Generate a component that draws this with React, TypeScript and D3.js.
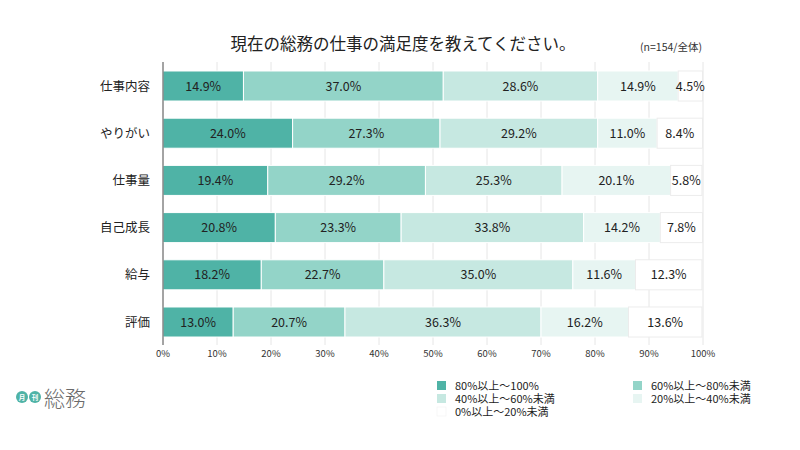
import React from "react";
import * as d3 from "d3";

const categories = ["仕事内容", "やりがい", "仕事量", "自己成長", "給与", "評価"];
const seriesNames = ["80%以上～100%", "60%以上～80%未満", "40%以上～60%未満", "20%以上～40%未満", "0%以上～20%未満"];
const s80to100 = [14.9, 24.0, 19.4, 20.8, 18.2, 13.0];
const s60to80 = [37.0, 27.3, 29.2, 23.3, 22.7, 20.7];
const s40to60 = [28.6, 29.2, 25.3, 33.8, 35.0, 36.3];
const s20to40 = [14.9, 11.0, 20.1, 14.2, 11.6, 16.2];
const s0to20 = [4.5, 8.4, 5.8, 7.8, 12.3, 13.6];
const ticks = [0, 10, 20, 30, 40, 50, 60, 70, 80, 90, 100];
const colors = ["#4fb3a6", "#93d4c8", "#c6e8e1", "#e7f5f2", "#ffffff"];

const FONT = "'Noto Sans CJK JP', 'Noto Sans', sans-serif";

export default function App() {
  const W = 800, H = 450;
  const x0 = 163, x1 = 703;
  const x = d3.scaleLinear().domain([0, 100]).range([x0, x1]);
  const y = d3.scaleBand().domain(categories).range([62.4, 345.6]).paddingInner(0.364).paddingOuter(0.182);
  const series = [s80to100, s60to80, s40to60, s20to40, s0to20];
  const rows = categories.map((c, i) => {
    const o: any = { cat: c };
    series.forEach((s, k) => (o["k" + k] = s[i]));
    return o;
  });
  const stack = d3.stack().keys(series.map((_, k) => "k" + k))(rows as any);

  const legendPos = [
    [437, 386], [633, 386],
    [437, 399], [633, 399],
    [437, 412],
  ];

  return (
    <svg width={W} height={H} style={{ display: "block", position: "absolute", left: 0, top: 0, background: "#fff" }} fontFamily={FONT}>
      <text x={403} y={50} textAnchor="middle" fontSize={16.5} fill="#222">現在の総務の仕事の満足度を教えてください。</text>
      <text x={702} y={51} textAnchor="end" fontSize={10.5} fill="#333">(n=154/全体)</text>
      {ticks.map((t) => (
        <line key={t} x1={x(t)} x2={x(t)} y1={62} y2={345} stroke="#e6e6e6" strokeWidth={1} />
      ))}
      {stack.map((layer, k) => (
        <g key={k}>
          {layer.map((d: any, i: number) => {
            const cat = categories[i];
            const bx = x(d[0]), bw = x(d[1]) - x(d[0]);
            const by = y(cat)!, bh = y.bandwidth();
            return (
              <g key={i}>
                <rect x={bx} y={by} width={bw} height={bh} fill={colors[k]} stroke={k === 4 ? "#ececec" : "#ffffff"} strokeWidth={1} />
                <text x={bx + bw / 2} y={by + bh / 2 + 4.5} textAnchor="middle" fontSize={12.5} fill="#222">
                  {series[k][i].toFixed(1)}%
                </text>
              </g>
            );
          })}
        </g>
      ))}
      <line x1={x0} x2={x0} y1={62} y2={345} stroke="#555" strokeWidth={1} />
      {categories.map((c) => (
        <text key={c} x={150} y={y(c)! + y.bandwidth() / 2 + 4.5} textAnchor="end" fontSize={12.5} fill="#222">{c}</text>
      ))}
      {ticks.map((t) => (
        <text key={t} x={x(t)} y={357} textAnchor="middle" fontSize={9.5} fill="#333">{t}%</text>
      ))}
      {seriesNames.map((n, k) => (
        <g key={n}>
          <rect x={legendPos[k][0]} y={legendPos[k][1] - 5} width={9} height={9} fill={colors[k]} stroke={k === 4 ? "#eee" : "none"} strokeWidth={0.5} />
          <text x={legendPos[k][0] + 18} y={legendPos[k][1] + 4} fontSize={11} fill="#222">{n}</text>
        </g>
      ))}
      <g>
        <circle cx={22} cy={397} r={6} fill="#4fb3a6" />
        <text x={22} y={399.5} textAnchor="middle" fontSize={6.5} fill="#fff" fontWeight="bold">月</text>
        <circle cx={35} cy={397} r={6} fill="#4fb3a6" />
        <text x={35} y={399.5} textAnchor="middle" fontSize={6.5} fill="#fff" fontWeight="bold">刊</text>
        <text x={44} y={406} fontSize={21} fill="#6a6a6a" fontWeight={300}>総務</text>
      </g>
    </svg>
  );
}
